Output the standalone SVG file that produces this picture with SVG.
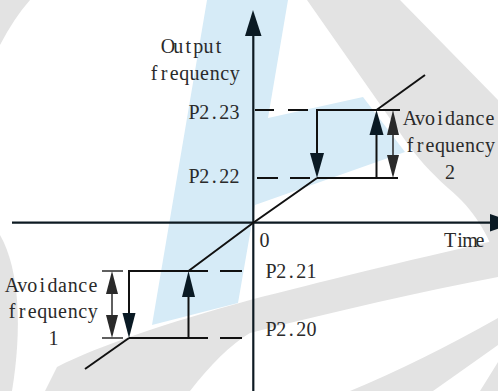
<svg xmlns="http://www.w3.org/2000/svg" width="498" height="391" viewBox="0 0 498 391">
<style>
.wm-g{fill:#e3e3e3}
.wm-b{fill:#d6ebf7}
.ax{stroke:#0d1a22;stroke-width:2.2;fill:none}
.ln{stroke:#111;stroke-width:2;fill:none}
.dim{stroke:#2a2a2a;stroke-width:1.5;fill:none}
.hd{fill:#0a1a24}
.dh{fill:#2a2a2a}
text{font-family:"Liberation Serif","Times New Roman",serif;font-size:20px;fill:#2a2a2a;text-anchor:middle}
</style>
<rect width="498" height="391" fill="#ffffff"/>
<g id="watermark">
<path class="wm-g" d="M0,0 H30 Q14,18 0,45 Z"/>
<path class="wm-g" d="M307,0 L400,0 L498,100 L498,262 C488,235 475,210 448,188 C430,172 415,155 405,140 Z"/>
<path class="wm-g" d="M0,235 C20,270 22,330 12,391 L0,391 Z"/>
<path class="wm-g" d="M498,240 C400,262 320,282 250,300 C170,322 100,345 57,367 L45,391 L190,391 C210,365 230,345 250,333 C340,310 420,292 498,277 Z"/>
<path class="wm-g" d="M350,391 Q420,362 498,318 L498,345 Q460,372 433,391 Z"/>
<path class="wm-g" d="M480,391 Q490,375 498,362 L498,391 Z"/>
<path class="wm-b" d="M207,0 L288,0 L268,118 L363,97 L405,152 L255,205 L238,303 L152,325 Z"/>
</g>
<g id="axes">
<line class="ax" x1="253.3" y1="34" x2="253.3" y2="391"/>
<polygon class="hd" points="253,10 245,36 261.5,36"/>
<line class="ax" x1="12" y1="222.7" x2="492" y2="222.7"/>
<polygon class="hd" points="515,222.7 490,214 490,231.5"/>
</g>
<g id="connectors">
<polyline class="ln" points="85,369 129,338"/>
<polyline class="ln" points="188.5,271 253.3,222.7 317,178"/>
<polyline class="ln" points="376.5,110 425,75"/>
<g id="dashes" class="ln">
<line x1="255" y1="110" x2="274" y2="110"/>
<line x1="288" y1="110" x2="308" y2="110"/>
<line x1="257" y1="178" x2="278" y2="178"/>
<line x1="290" y1="178" x2="310" y2="178"/>
<line x1="220" y1="271" x2="242" y2="271"/>
<line x1="220" y1="338" x2="242" y2="338"/>
</g>
</g>
<g id="upper-jump">
<polyline class="ln" points="317,154 317,110 400,110"/>
<polyline class="ln" points="317,178 398,178"/>
<line class="ln" x1="376.5" y1="178" x2="376.5" y2="134"/>
<polygon class="hd" points="376.5,110 369.5,135 383.5,135"/>
<polygon class="hd" points="317,178 310,153 324,153"/>
</g>
<g id="lower-jump">
<polyline class="ln" points="129,313 129,271 208,271"/>
<polyline class="ln" points="129,338 208,338"/>
<line class="ln" x1="188.5" y1="338" x2="188.5" y2="296"/>
<polygon class="hd" points="188.5,271 182,297 195,297"/>
<polygon class="hd" points="129,338 122.5,313 135.5,313"/>
</g>
<g id="avoidance-2">
<line class="dim" x1="393" y1="133" x2="393" y2="156"/>
<polygon class="dh" points="393,110 387,135 399,135"/>
<polygon class="dh" points="393,178 387,155 399,155"/>
</g>
<g id="avoidance-1">
<line class="dim" x1="102" y1="271" x2="123" y2="271"/>
<line class="dim" x1="102" y1="338" x2="123" y2="338"/>
<line class="dim" x1="112" y1="292" x2="112" y2="316"/>
<polygon class="dh" points="112,271 106,294 118,294"/>
<polygon class="dh" points="112,338 106,315 118,315"/>
</g>
<g id="labels">
<text x="168.05 178.15 188.25 198.35 208.45 218.55" y="53">Output</text>
<text x="154.05 164.15 174.25 184.35 194.45 204.55 214.65 224.75 234.85" y="80">frequency</text>
<text x="194.05 204.15 214.25 224.35 234.45" y="119">P2.23</text>
<text x="194.05 204.15 214.25 224.35 234.45" y="183">P2.22</text>
<text x="410 420 430 440 450 460 470 480 490" y="125">Avoidance</text>
<text x="410 420 430 440 450 460 470 480 490" y="152">frequency</text>
<text x="450" y="179">2</text>
<text x="264.5" y="247">0</text>
<text x="450 460 470 480" y="247">Time</text>
<text x="271.05 281.15 291.25 301.35 311.45" y="278">P2.21</text>
<text x="271.05 281.15 291.25 301.35 311.45" y="336">P2.20</text>
<text x="12.05 22.15 32.25 42.35 52.45 62.55 72.65 82.75 92.85" y="292">Avoidance</text>
<text x="12.05 22.15 32.25 42.35 52.45 62.55 72.65 82.75 92.85" y="318">frequency</text>
<text x="53.5" y="345">1</text>
</g>
</svg>
